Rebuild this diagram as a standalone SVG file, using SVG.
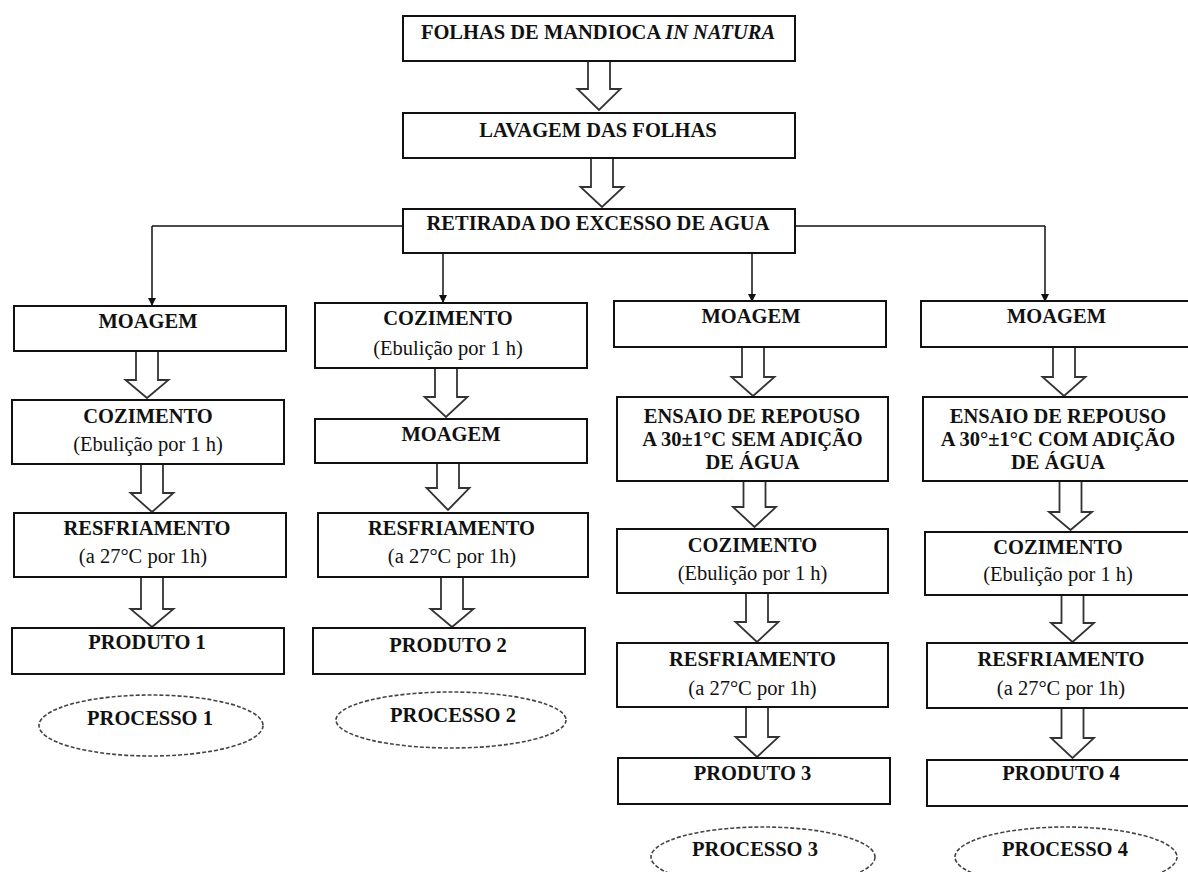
<svg xmlns="http://www.w3.org/2000/svg" width="1188" height="872" viewBox="0 0 1188 872">
<style>
.box{fill:#fff;stroke:#111;stroke-width:2}
.blk{fill:#fff;stroke:#333;stroke-width:1.8;stroke-linejoin:miter}
.ell{fill:#fff;stroke:#444;stroke-width:1.6;stroke-dasharray:4 2}
.t{font-family:"Liberation Serif","Times New Roman",serif;font-size:20.5px;font-weight:bold;fill:#111;text-anchor:middle}
.r{font-family:"Liberation Serif","Times New Roman",serif;font-size:20.5px;fill:#111;text-anchor:middle}
.ln{fill:none;stroke:#111;stroke-width:1.5}
</style>
<defs>
<marker id="ah" markerWidth="8" markerHeight="10" refX="7" refY="4" orient="auto" markerUnits="userSpaceOnUse">
<path d="M0,0 L8,4 L0,8 Z" fill="#111"/>
</marker>
</defs>
<rect width="1188" height="872" fill="#fff"/>

<g id="connectors">
<path class="ln" d="M152,226 H403"/>
<path class="ln" d="M795,226 H1045"/>
<path class="ln" d="M152,226 V305" marker-end="url(#ah)"/>
<path class="ln" d="M443,253 V302" marker-end="url(#ah)"/>
<path class="ln" d="M752,253 V301" marker-end="url(#ah)"/>
<path class="ln" d="M1045,226 V301" marker-end="url(#ah)"/>
<path class="blk" d="M588,61 H610 V89 H620.5 L599,110 L577.5,89 H588 Z"/>
<path class="blk" d="M591,158 H613 V187 H623.5 L602,207 L580.5,187 H591 Z"/>
<path class="blk" d="M136,351 H158 V380 H168.5 L147,398 L125.5,380 H136 Z"/>
<path class="blk" d="M141,464 H163 V493 H173.5 L152,512 L130.5,493 H141 Z"/>
<path class="blk" d="M141,577 H163 V609 H173.5 L152,627 L130.5,609 H141 Z"/>
<path class="blk" d="M435,368 H457 V397 H467.5 L446,417 L424.5,397 H435 Z"/>
<path class="blk" d="M437,463 H459 V488 H469.5 L448,510 L426.5,488 H437 Z"/>
<path class="blk" d="M441,577 H463 V609 H473.5 L452,627 L430.5,609 H441 Z"/>
<path class="blk" d="M742,347 H764 V377 H774.5 L753,396 L731.5,377 H742 Z"/>
<path class="blk" d="M743.5,481 H765.5 V507 H776 L754.5,527 L733,507 H743.5 Z"/>
<path class="blk" d="M746,593 H768 V622 H778.5 L757,642 L735.5,622 H746 Z"/>
<path class="blk" d="M746,707 H768 V737 H778.5 L757,757 L735.5,737 H746 Z"/>
<path class="blk" d="M1053,347 H1075 V377 H1085.5 L1064,396 L1042.5,377 H1053 Z"/>
<path class="blk" d="M1059.5,481 H1081.5 V512 H1092 L1070.5,530 L1049,512 H1059.5 Z"/>
<path class="blk" d="M1061.5,595 H1083.5 V623 H1094 L1072.5,642 L1051,623 H1061.5 Z"/>
<path class="blk" d="M1061.5,708 H1083.5 V738 H1094 L1072.5,758 L1051,738 H1061.5 Z"/>
</g>

<g id="n-folhas">
<rect class="box" x="403" y="16" width="392" height="45"/>
<text class="t" x="598" y="39">FOLHAS DE MANDIOCA <tspan font-style="italic">IN NATURA</tspan></text>
</g>
<g id="n-lavagem">
<rect class="box" x="403" y="113" width="392" height="45"/>
<text class="t" x="598" y="137">LAVAGEM DAS FOLHAS</text>
</g>
<g id="n-retirada">
<rect class="box" x="403" y="209" width="392" height="44"/>
<text class="t" x="598" y="230">RETIRADA DO EXCESSO DE AGUA</text>
</g>

<g id="p1-moagem">
<rect class="box" x="14" y="306" width="272" height="45"/>
<text class="t" x="148" y="328">MOAGEM</text>
</g>
<g id="p1-cozimento">
<rect class="box" x="12" y="400" width="272" height="64"/>
<text class="t" x="148" y="423">COZIMENTO</text>
<text class="r" x="148" y="451">(Ebulição por 1 h)</text>
</g>
<g id="p1-resfriamento">
<rect class="box" x="14" y="513" width="272" height="64"/>
<text class="t" x="147" y="535">RESFRIAMENTO</text>
<text class="r" x="143" y="563">(a 27°C por 1h)</text>
</g>
<g id="p1-produto">
<rect class="box" x="12" y="628" width="272" height="46"/>
<text class="t" x="147" y="649">PRODUTO 1</text>
</g>
<g id="p1-processo">
<ellipse class="ell" cx="151" cy="725.5" rx="112" ry="30.5"/>
<text class="t" x="150" y="725">PROCESSO 1</text>
</g>

<g id="p2-cozimento">
<rect class="box" x="315" y="303" width="272" height="65"/>
<text class="t" x="448" y="325">COZIMENTO</text>
<text class="r" x="448" y="355">(Ebulição por 1 h)</text>
</g>
<g id="p2-moagem">
<rect class="box" x="315" y="419" width="272" height="44"/>
<text class="t" x="451" y="441">MOAGEM</text>
</g>
<g id="p2-resfriamento">
<rect class="box" x="318" y="513" width="270" height="64"/>
<text class="t" x="451.5" y="535">RESFRIAMENTO</text>
<text class="r" x="452" y="563">(a 27°C por 1h)</text>
</g>
<g id="p2-produto">
<rect class="box" x="313" y="628" width="272" height="46"/>
<text class="t" x="448" y="652">PRODUTO 2</text>
</g>
<g id="p2-processo">
<ellipse class="ell" cx="451" cy="720" rx="115" ry="28"/>
<text class="t" x="453" y="722">PROCESSO 2</text>
</g>

<g id="p3-moagem">
<rect class="box" x="614" y="301" width="272" height="46"/>
<text class="t" x="751" y="323">MOAGEM</text>
</g>
<g id="p3-ensaio">
<rect class="box" x="617" y="397" width="271" height="84"/>
<text class="t" x="752" y="423">ENSAIO DE REPOUSO</text>
<text class="t" x="752.5" y="446">A 30±1°C SEM ADIÇÃO</text>
<text class="t" x="752.5" y="469">DE ÁGUA</text>
</g>
<g id="p3-cozimento">
<rect class="box" x="617" y="529" width="271" height="64"/>
<text class="t" x="752.5" y="552">COZIMENTO</text>
<text class="r" x="752.5" y="580">(Ebulição por 1 h)</text>
</g>
<g id="p3-resfriamento">
<rect class="box" x="617" y="643" width="271" height="64"/>
<text class="t" x="752.5" y="666">RESFRIAMENTO</text>
<text class="r" x="752.5" y="695">(a 27°C por 1h)</text>
</g>
<g id="p3-produto">
<rect class="box" x="618" y="758" width="272" height="46"/>
<text class="t" x="752.5" y="780">PRODUTO 3</text>
</g>
<g id="p3-processo">
<ellipse class="ell" cx="763" cy="857" rx="112" ry="30"/>
<text class="t" x="755" y="856">PROCESSO 3</text>
</g>

<g id="p4-moagem">
<rect class="box" x="921" y="301" width="274" height="46"/>
<text class="t" x="1056.5" y="323">MOAGEM</text>
</g>
<g id="p4-ensaio">
<rect class="box" x="923" y="397" width="274" height="84"/>
<text class="t" x="1058" y="423">ENSAIO DE REPOUSO</text>
<text class="t" x="1058" y="446">A 30°±1°C COM ADIÇÃO</text>
<text class="t" x="1058" y="469">DE ÁGUA</text>
</g>
<g id="p4-cozimento">
<rect class="box" x="925" y="532" width="272" height="63"/>
<text class="t" x="1058" y="554">COZIMENTO</text>
<text class="r" x="1058" y="581">(Ebulição por 1 h)</text>
</g>
<g id="p4-resfriamento">
<rect class="box" x="927" y="643" width="270" height="65"/>
<text class="t" x="1061" y="666">RESFRIAMENTO</text>
<text class="r" x="1061" y="695">(a 27°C por 1h)</text>
</g>
<g id="p4-produto">
<rect class="box" x="927" y="760" width="270" height="46"/>
<text class="t" x="1061" y="780">PRODUTO 4</text>
</g>
<g id="p4-processo">
<ellipse class="ell" cx="1066" cy="857" rx="111" ry="30"/>
<text class="t" x="1065" y="856">PROCESSO 4</text>
</g>
</svg>
